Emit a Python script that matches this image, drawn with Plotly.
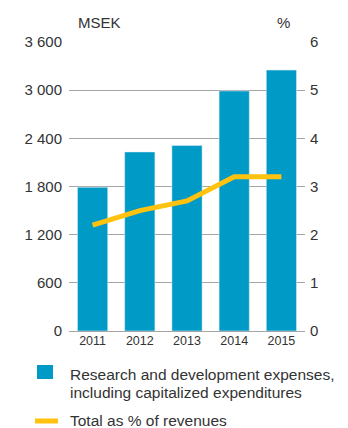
import plotly.graph_objects as go

years = ["2011", "2012", "2013", "2014", "2015"]
rd_expenses = [1790, 2230, 2310, 2990, 3250]       # MSEK
pct_of_revenues = [2.2, 2.5, 2.7, 3.2, 3.2]        # %

left_ticks = [0, 600, 1200, 1800, 2400, 3000, 3600]
left_labels = ["0", "600", "1 200", "1 800", "2 400", "3 000", "3 600"]
right_ticks = [0, 1, 2, 3, 4, 5, 6]

BAR = "#009AC7"
LINE = "#FFC20E"
GRID = "#A6A6A6"
TXT = "#333333"
FONT = "Liberation Sans"

# plot area in pixels: x 69..305, y 42..331
L, R, T, B = 69, 305, 42, 331


def px_x(v):
    return (v - L) / (R - L)


def px_y(v):
    return (B - v) / (B - T)


fig = go.Figure()
fig.add_trace(go.Bar(x=years, y=rd_expenses, marker_color=BAR, width=0.64,
                     showlegend=False))
fig.add_trace(go.Scatter(x=years, y=pct_of_revenues, yaxis="y2", mode="lines",
                         line=dict(color=LINE, width=5), showlegend=False))

fig.update_layout(
    width=348, height=428,
    margin=dict(l=L, r=348 - R, t=T, b=428 - B),
    paper_bgcolor="white", plot_bgcolor="white",
    font=dict(family=FONT, color=TXT),
    xaxis=dict(range=[-0.5, 4.5], showgrid=False, ticks="", showline=False,
               tickfont=dict(size=12.5, color=TXT)),
    yaxis=dict(range=[0, 3600], tickvals=left_ticks, ticktext=left_labels,
               showgrid=True, gridcolor=GRID, gridwidth=1, zeroline=True,
               zerolinecolor=GRID, zerolinewidth=1, ticks="",
               ticklabelstandoff=6, tickfont=dict(size=15, color=TXT)),
    yaxis2=dict(range=[0, 6], tickvals=right_ticks, overlaying="y", side="right",
                showgrid=False, zeroline=False, ticks="",
                ticklabelstandoff=4, tickfont=dict(size=15, color=TXT)),
)

# axis titles
fig.add_annotation(text="MSEK", x=px_x(76), y=px_y(22),
                   xref="paper", yref="paper", xanchor="left", yanchor="middle",
                   showarrow=False, font=dict(size=15, color=TXT))
fig.add_annotation(text="%", x=px_x(283), y=px_y(22),
                   xref="paper", yref="paper", xanchor="center", yanchor="middle",
                   showarrow=False, font=dict(size=15, color=TXT))

# legend
fig.add_shape(type="rect", xref="paper", yref="paper",
              x0=px_x(37), x1=px_x(53), y0=px_y(379), y1=px_y(365),
              fillcolor=BAR, line=dict(width=0))
for text, yc in [("Research and development expenses,", 374),
                 ("including capitalized expenditures", 392)]:
    fig.add_annotation(text=text, x=px_x(68), y=px_y(yc),
                       xref="paper", yref="paper", xanchor="left",
                       yanchor="middle", showarrow=False,
                       font=dict(size=15.5, color=TXT))
fig.add_shape(type="line", xref="paper", yref="paper",
              x0=px_x(35), x1=px_x(58), y0=px_y(421), y1=px_y(421),
              line=dict(color=LINE, width=5))
fig.add_annotation(text="Total as % of revenues",
                   x=px_x(68), y=px_y(421), xref="paper", yref="paper",
                   xanchor="left", yanchor="middle", showarrow=False,
                   font=dict(size=15.5, color=TXT))

fig.write_html("out.html")
